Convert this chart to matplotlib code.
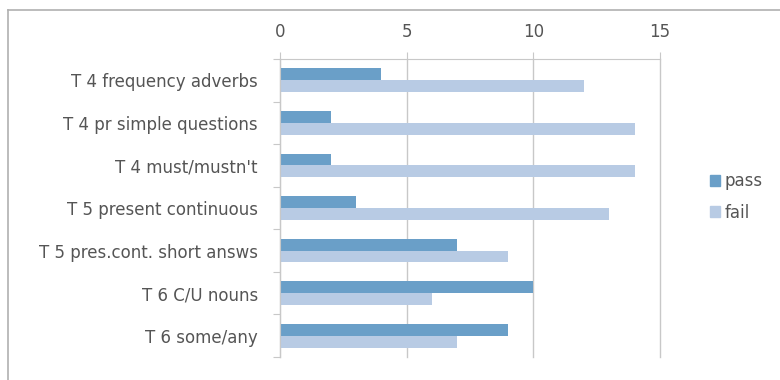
import numpy as np
import matplotlib.pyplot as plt
from matplotlib.lines import Line2D
from matplotlib.patches import Patch

plt.rcParams['font.family'] = ['DejaVu Sans']

# Resultados por tema
temas = ["T 4 frequency adverbs", "T 4 pr simple questions", "T 4 must/mustn't",
         "T 5 present continuous", "T 5 pres.cont. short answs",
         "T 6 C/U nouns", "T 6 some/any"]
pass_vals = [4, 2, 2, 3, 7, 10, 9]
fail_vals = [12, 14, 14, 13, 9, 6, 7]
x_ticks = [0, 5, 10, 15]

color_pass = '#6a9fc8'
color_fail = '#b8cbe4'
color_texto = '#555555'
color_linea = '#c8c8c8'
fs = 12

fig = plt.figure(figsize=(7.8, 3.8), dpi=100)
ax = fig.add_axes([280 / 780, 1 - 357 / 380, 380 / 780, 298 / 380])

# borde del area del grafico (solo arriba e izquierda visibles)
fig.add_artist(Line2D([8 / 780, 1], [1 - 10 / 380, 1 - 10 / 380], color='#b0b0b0', lw=1.2))
fig.add_artist(Line2D([8 / 780, 8 / 780], [0, 1 - 10 / 380], color='#b0b0b0', lw=1.2))

y = np.arange(len(temas))
h = 0.28
ax.barh(y - h / 2, pass_vals, height=h, color=color_pass, label='pass')
ax.barh(y + h / 2, fail_vals, height=h, color=color_fail, label='fail')

ax.set_xlim(0, 15)
ax.set_ylim(len(temas) - 0.5, -0.5)
ax.xaxis.tick_top()
ax.set_xticks(x_ticks)
ax.set_yticks(np.arange(len(temas) + 1) - 0.5, minor=False)
ax.set_yticklabels([])
ax.set_yticks(y, minor=True)
ax.set_yticklabels(temas, minor=True)
ax.tick_params(axis='y', which='minor', length=0, pad=16, labelsize=fs, labelcolor=color_texto)
ax.tick_params(axis='y', which='major', length=5, color=color_linea)
ax.tick_params(axis='x', length=5, color=color_linea, labelsize=fs, labelcolor=color_texto, pad=8)

ax.grid(axis='x', color=color_linea, lw=1)
for gl in ax.get_xgridlines():
    gl.set_clip_on(False)
ax.set_axisbelow(True)
for lado in ['right', 'bottom']:
    ax.spines[lado].set_visible(False)
for lado in ['top', 'left']:
    ax.spines[lado].set_color(color_linea)

handles = [Patch(color=color_pass, label='pass'), Patch(color=color_fail, label='fail')]
fig.legend(handles=handles, loc='center left', bbox_to_anchor=(695 / 780, 1 - 197 / 380),
           frameon=False, fontsize=fs, labelcolor=color_texto, handlelength=0.6,
           handleheight=0.6, handletextpad=0.3, labelspacing=0.8)

fig.savefig('out.png', dpi=100)
